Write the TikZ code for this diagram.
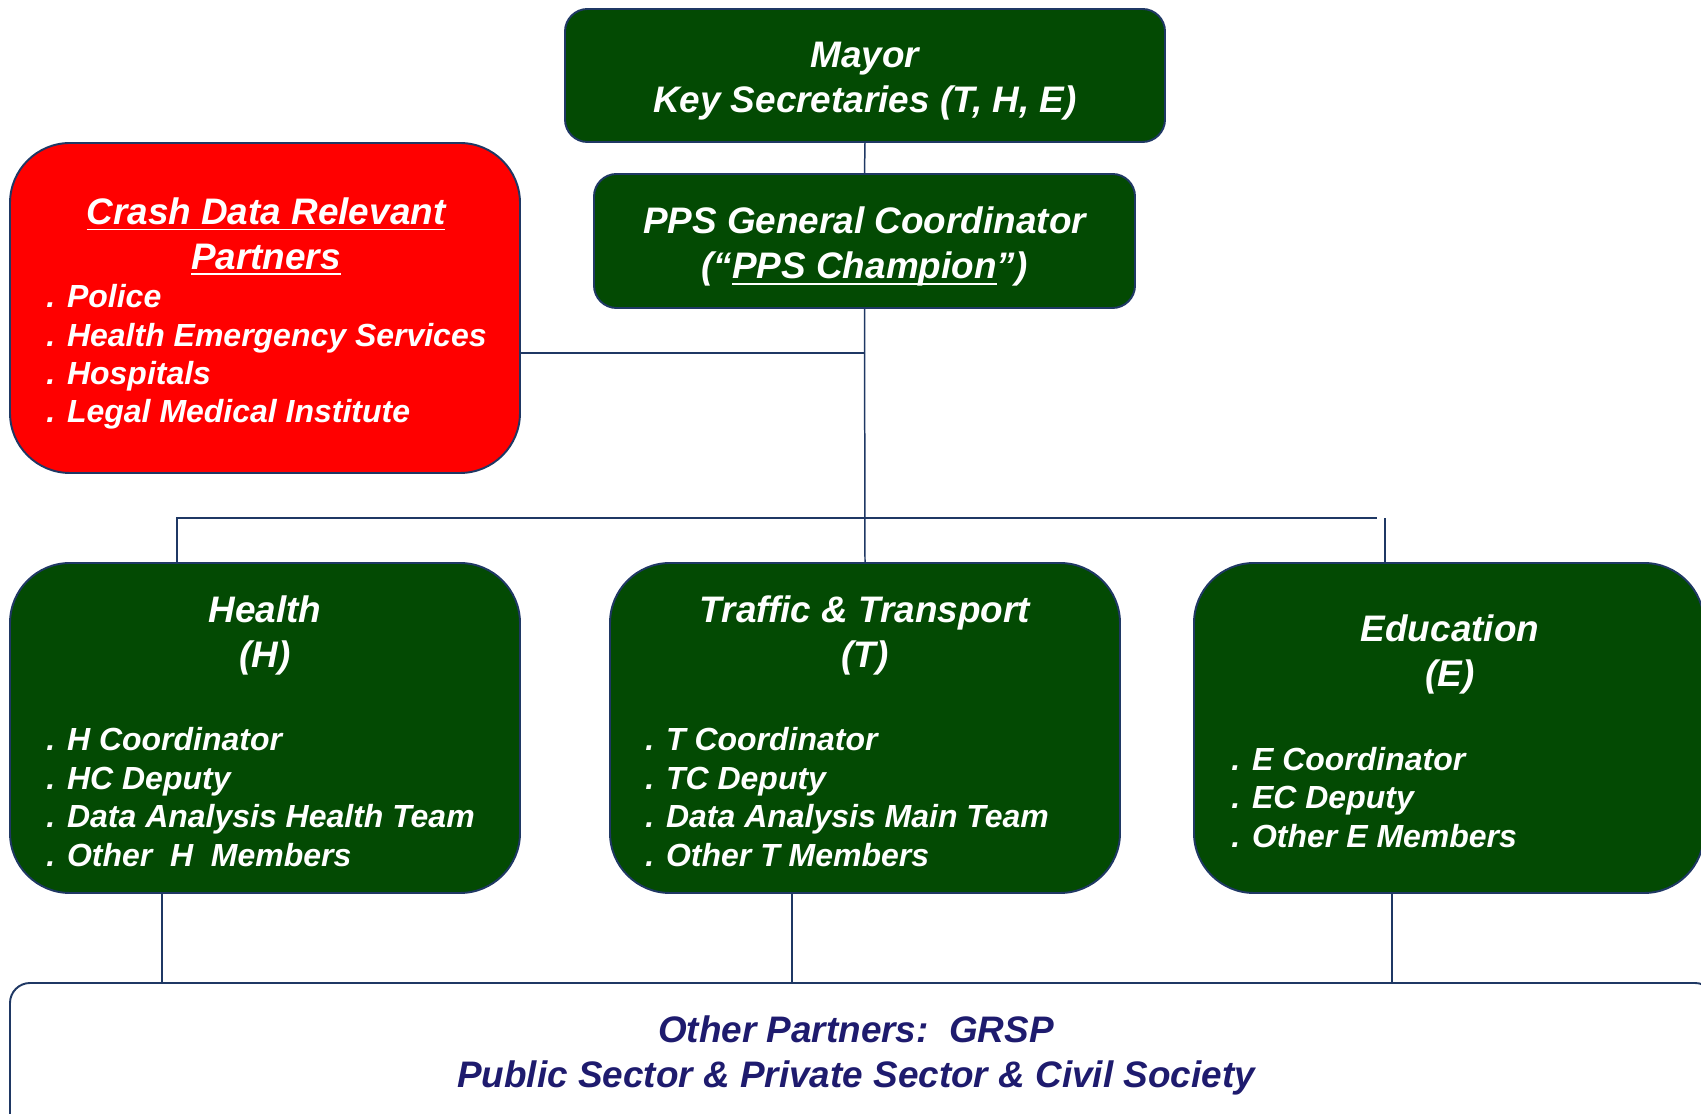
\documentclass[tikz,border=0pt]{standalone}
\usepackage{fontspec}
\setmainfont{Liberation Sans}

\definecolor{boxgreen}{HTML}{034A03}
\definecolor{boxred}{HTML}{FF0000}
\definecolor{edgenavy}{HTML}{1F3864}
\definecolor{partnerblue}{HTML}{1E1B6E}

\newcommand{\orgtitlefont}{\fontsize{21}{25.6}\selectfont\bfseries\itshape}
\newcommand{\orgitemfont}{\fontsize{18.2}{21.9}\selectfont\bfseries\itshape}
% thick underline
\newcommand{\orgul}[1]{\setbox0\hbox{#1}\rlap{\vrule width\wd0 height -2.4pt depth 3.5pt}\box0}

\tikzset{
  bigbox/.style={draw=edgenavy, line width=1.1pt, rounded corners=1.2cm,
    minimum width=10.2cm, minimum height=6.6cm, inner sep=0pt},
  topbox/.style={draw=edgenavy, line width=1.1pt, rounded corners=0.45cm,
    fill=boxgreen, inner sep=0pt},
  titletext/.style={text=white, align=center, font=\orgtitlefont},
  itemtext/.style={text=white, align=left, anchor=west, inner sep=0pt, font=\orgitemfont},
  link/.style={draw=edgenavy, line width=0.85pt},
}

\begin{document}
\begin{tikzpicture}
    \useasboundingbox (0,0) rectangle (34.02, 22.28);
    \clip (0,0) rectangle (34.02, 22.28);

    % Mayor and coordinator
    \node[topbox, minimum width=12cm, minimum height=2.66cm] (mayor) at (17.3, 20.77) {};
    \node[titletext] (mayortext) at (17.3, 20.65) {Mayor\\Key Secretaries (T, H, E)};
    \node[topbox, minimum width=10.82cm, minimum height=2.68cm] (pps) at (17.29, 17.46) {};
    \node[titletext] (ppstext) at (17.29, 17.35) {PPS General Coordinator\\(“\orgul{PPS Champion}”)};

    % Crash data partners
    \node[bigbox, fill=boxred] (crash) at (5.3, 16.12) {};
    \node[titletext] (crashtitle) at (5.32, 17.55) {\orgul{Crash Data Relevant}\\\orgul{Partners}};
    \node[itemtext] (crashlist) at (0.92, 15.14)
        {. Police\\. Health Emergency Services\\. Hospitals\\. Legal Medical Institute};

    % Health
    \node[bigbox, fill=boxgreen] (health) at (5.3, 7.72) {};
    \node[titletext] (healthtitle) at (5.3, 9.58) {Health\\(H)};
    \node[itemtext] (healthlist) at (0.92, 6.34)
        {. H Coordinator\\. HC Deputy\\. Data Analysis Health Team\\. Other~~H~~Members};

    % Traffic and transport
    \node[bigbox, fill=boxgreen] (traffic) at (17.3, 7.72) {};
    \node[titletext] (traffictitle) at (17.3, 9.58) {Traffic \& Transport\\(T)};
    \node[itemtext] (trafficlist) at (12.9, 6.34)
        {. T Coordinator\\. TC Deputy\\. Data Analysis Main Team\\. Other T Members};

    % Education
    \node[bigbox, fill=boxgreen] (education) at (28.98, 7.72) {};
    \node[titletext] (educationtitle) at (29.0, 9.19) {Education\\(E)};
    \node[itemtext] (educationlist) at (24.62, 6.33)
        {. E Coordinator\\. EC Deputy\\. Other E Members};

    % Other partners
    \node[draw=edgenavy, line width=1.1pt, rounded corners=0.4cm,
        minimum width=34.1cm, minimum height=3.12cm] (others) at (17.25, 1.06) {};
    \node[text=partnerblue, font=\orgtitlefont, align=center] (otherstext) at (17.12, 1.18)
        {Other Partners:~~GRSP\\Public Sector \& Private Sector \& Civil Society};

    % Connectors
    \coordinate (crashjoin) at (17.3, 15.22);
    \coordinate (busleft) at (3.54, 11.92);
    \coordinate (busright) at (27.54, 11.92);
    \draw[link] (mayor.south) -- (pps.north);
    \draw[link] (pps.south) -- (traffic.north);
    \draw[link] (crash.east |- crashjoin) -- (crashjoin);
    \draw[link] (busleft |- health.north) -- (busleft) -- (busright);
    \draw[link] ([xshift=-1.28cm]education.north) -- ([xshift=-1.28cm]education.north |- busright);
    \draw[link] ([xshift=-2.06cm]health.south) -- ([xshift=-2.06cm]health.south |- others.north);
    \draw[link] ([xshift=-1.46cm]traffic.south) -- ([xshift=-1.46cm]traffic.south |- others.north);
    \draw[link] ([xshift=-1.14cm]education.south) -- ([xshift=-1.14cm]education.south |- others.north);

\end{tikzpicture}
\end{document}
